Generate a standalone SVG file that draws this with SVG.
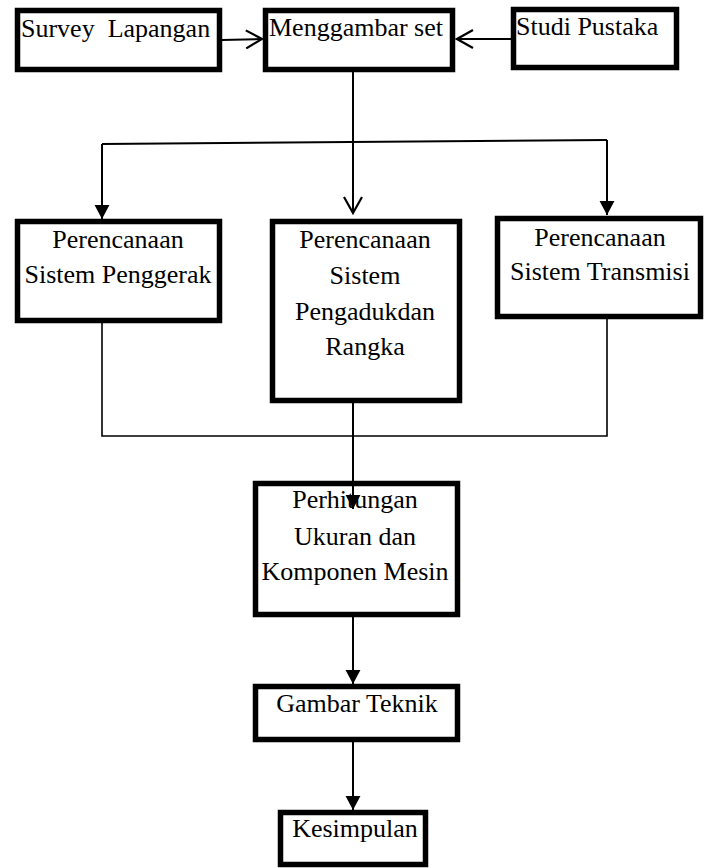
<svg xmlns="http://www.w3.org/2000/svg" width="708" height="868" viewBox="0 0 708 868">
<style>
.box{fill:#fff;stroke:#000;stroke-width:5.5}
.t{font-size:26px;fill:#000}
.c{text-anchor:middle}
.ln{fill:none;stroke:#000;stroke-width:2}
.ln2{fill:none;stroke:#000;stroke-width:1.6}
</style>
<defs>
<marker id="open" viewBox="0 0 20 20" refX="18" refY="10" markerWidth="20" markerHeight="20" markerUnits="userSpaceOnUse" orient="auto">
<path d="M2,1 L18,10 L2,19" fill="none" stroke="#000" stroke-width="2.2"/>
</marker>
<marker id="fill" viewBox="0 0 16 16" refX="15" refY="8" markerWidth="15" markerHeight="16" markerUnits="userSpaceOnUse" orient="auto">
<path d="M0,0 L15,8 L0,16 Z" fill="#000"/>
</marker>
</defs>
<g font-family="'Liberation Serif', 'Times New Roman', 'DejaVu Serif', serif">
<g id="survey">
<rect class="box" x="17.5" y="10.5" width="202" height="59"/>
<text class="t" x="21" y="37" xml:space="preserve">Survey  Lapangan</text>
</g>
<g id="menggambar">
<rect class="box" x="265.5" y="10.5" width="187" height="59"/>
<text class="t" x="269" y="36">Menggambar set</text>
</g>
<g id="studi">
<rect class="box" x="513.5" y="9.5" width="163" height="58"/>
<text class="t" x="516" y="35">Studi Pustaka</text>
</g>
<g id="penggerak">
<rect class="box" x="17.5" y="221.5" width="202" height="99"/>
<text class="t c" x="118" y="248">Perencanaan</text>
<text class="t c" x="118" y="283">Sistem Penggerak</text>
</g>
<g id="pengaduk">
<rect class="box" x="272.5" y="221.5" width="187" height="179"/>
<text class="t c" x="365" y="248">Perencanaan</text>
<text class="t c" x="365" y="284">Sistem</text>
<text class="t c" x="365" y="320">Pengadukdan</text>
<text class="t c" x="365" y="355">Rangka</text>
</g>
<g id="transmisi">
<rect class="box" x="497.5" y="218.5" width="203" height="98"/>
<text class="t c" x="600" y="246">Perencanaan</text>
<text class="t c" x="600" y="280">Sistem Transmisi</text>
</g>
<g id="perhitungan">
<rect class="box" x="255.5" y="483.5" width="202" height="131"/>
<text class="t c" x="355" y="508">Perhitungan</text>
<text class="t c" x="355" y="545">Ukuran dan</text>
<text class="t c" x="355" y="580">Komponen Mesin</text>
</g>
<g id="gambar">
<rect class="box" x="255.5" y="686.5" width="202" height="53"/>
<text class="t c" x="357" y="712">Gambar Teknik</text>
</g>
<g id="kesimpulan">
<rect class="box" x="280.5" y="812.5" width="145" height="52"/>
<text class="t c" x="355" y="837">Kesimpulan</text>
</g>
</g>
<g id="connectors">
<line class="ln" x1="222" y1="40" x2="262" y2="39" marker-end="url(#open)"/>
<line class="ln" x1="511" y1="39" x2="457" y2="39" marker-end="url(#open)"/>
<line class="ln" x1="353" y1="72" x2="353" y2="213" marker-end="url(#open)"/>
<line class="ln" x1="102" y1="144" x2="607" y2="140"/>
<line class="ln" x1="102" y1="144" x2="102" y2="219" marker-end="url(#fill)"/>
<line class="ln" x1="607" y1="140" x2="607" y2="215" marker-end="url(#fill)"/>
<polyline class="ln2" points="102,323 102,436 607,436 607,319"/>
<line class="ln" x1="353" y1="403" x2="353" y2="509" marker-end="url(#fill)"/>
<line class="ln" x1="353" y1="617" x2="353" y2="684" marker-end="url(#fill)"/>
<line class="ln" x1="353" y1="742" x2="353" y2="810" marker-end="url(#fill)"/>
</g>
</svg>
